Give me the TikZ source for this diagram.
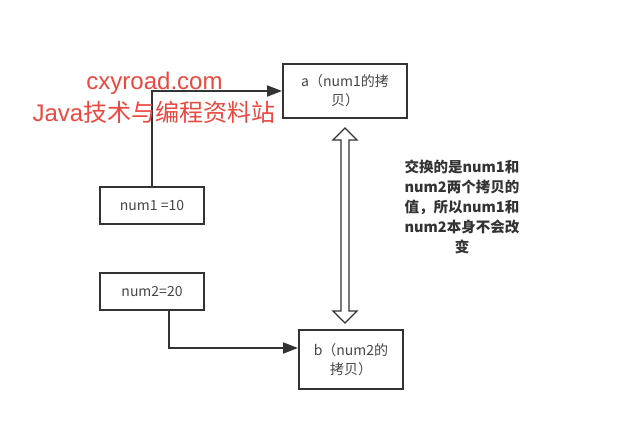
\documentclass[tikz,border=0pt]{standalone}
\usepackage{fontspec}
\setmainfont{Noto Sans CJK SC}
\newfontfamily\cjk{Noto Sans CJK SC}
\newfontfamily\wlat{Liberation Sans}
\usetikzlibrary{arrows.meta}
\definecolor{boxline}{RGB}{51,51,51}
\definecolor{boxtext}{RGB}{70,70,70}
\definecolor{wm}{RGB}{236,72,62}
\tikzset{
  box/.style={draw=boxline, line width=2pt, fill=white, inner sep=0pt, align=center, text=boxtext, font=\cjk\fontsize{14}{19}\selectfont},
  conn/.style={draw=boxline, line width=2pt, -{Triangle[length=15pt,width=11pt]}},
  dbl/.style={draw=boxline, line width=1.3pt, fill=white, line join=miter},
  note/.style={align=center, text=boxline, font=\cjk\bfseries\fontsize{14.5}{20}\selectfont, inner sep=0pt},
  wmark/.style={text=wm, inner sep=0pt, font=\fontsize{24}{28}\selectfont}
}
\begin{document}
\begin{tikzpicture}[x=1pt,y=-1pt]
\useasboundingbox (0,0) rectangle (627,436);
\fill[white] (0,0) rectangle (627,436);
\node[box, minimum width=124pt, minimum height=54pt] (a) at (345,91) {a（num1的拷\\贝）};
\node[box, minimum width=104pt, minimum height=37pt] (n1) at (152,205.5) {num1 =10};
\node[box, minimum width=104pt, minimum height=37pt] (n2) at (152,291.5) {num2=20};
\node[box, minimum width=104pt, minimum height=59pt] (b) at (351,359.5) {b（num2的\\拷贝）};
\draw[conn] (n1.north) |- (a.west);
\draw[conn] ([xshift=17pt]n2.south) |- ([yshift=11.5pt]b.west);
\coordinate (dt) at (345,128);
\coordinate (db) at (345,323);
\draw[dbl] (dt) -- ++(12,12) -- ++(-8,0) -- (349,311) -- ++(8,0) -- (db) -- ++(-12,-12) -- ++(8,0) -- (341,140) -- ++(-8,0) -- cycle;
\node[note] (t) at (462,207) {交换的是num1和\\num2两个拷贝的\\值，所以num1和\\num2本身不会改\\变};
\node[wmark] (w1) at (154.5,83) {\wlat cxyroad.com};
\node[wmark] (w2) at (154,112) {\wlat Java\cjk 技术与编程资料站};
\end{tikzpicture}
\end{document}
